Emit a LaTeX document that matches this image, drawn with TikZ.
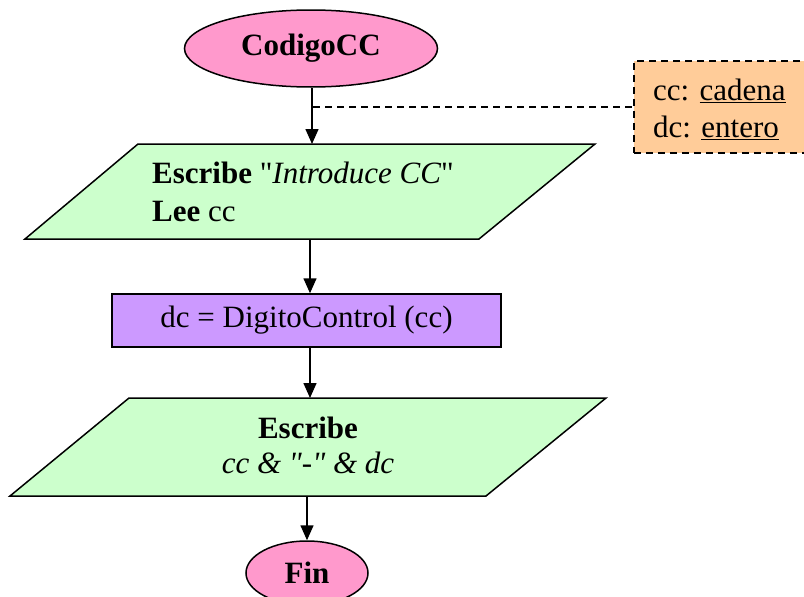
\documentclass[tikz,border=0pt]{standalone}
\usepackage{fontspec}
\setmainfont{Liberation Serif}[Ligatures=TeXOff]
\usetikzlibrary{shapes.geometric,arrows.meta}
\definecolor{pinkfill}{HTML}{FF99CC}
\definecolor{greenfill}{HTML}{CCFFCC}
\definecolor{purplefill}{HTML}{CC99FF}
\definecolor{orangefill}{HTML}{FFCC99}
\begin{document}
\begin{tikzpicture}[x=1pt,y=-1pt,
  every node/.style={font=\fontsize{31}{38}\selectfont},
  terminal/.style={ellipse,draw,line width=1.5pt,fill=pinkfill,inner sep=0pt,font=\fontsize{31}{38}\selectfont\bfseries},
  iobox/.style={draw,line width=1.5pt,fill=greenfill,line join=miter},
  procbox/.style={rectangle,draw,line width=1.5pt,fill=purplefill,inner sep=0pt},
  notebox/.style={rectangle,draw,line width=1.5pt,fill=orangefill,dash pattern=on 7pt off 5pt,align=left,inner xsep=0pt,inner ysep=0pt},
  arr/.style={line width=1.5pt,-{Triangle[width=13pt,length=15pt]}},
  noteline/.style={line width=1.5pt,dash pattern=on 7pt off 5pt}]
\useasboundingbox (0,0) rectangle (804,597);

% start
\node[terminal,minimum width=253pt,minimum height=77pt] (start) at (311,48.5) {CodigoCC};

% declarations box
\node[notebox,minimum width=175pt,minimum height=92pt,text width=155pt,inner xsep=10pt,anchor=north west] (decl) at (633,60) {};
\node[anchor=base west,inner sep=0pt] (declA) at (653,100) {cc: \underline{cadena}};
\node[anchor=base west,inner sep=0pt] (declB) at (653,137) {dc: \underline{entero}};

% input/output 1
\draw[iobox] (138,144) -- (595,144) -- (479,239) -- (25,239) -- cycle;
\coordinate (p1t) at (312,144);
\coordinate (p1b) at (310,239);
\node[anchor=base west,inner sep=0pt] (t1a) at (152,183) {\textbf{Escribe} "\textit{Introduce CC}"};
\node[anchor=base west,inner sep=0pt] (t1b) at (152,221) {\textbf{Lee} cc};

% process
\node[procbox,minimum width=389pt,minimum height=53pt] (proc) at (306.5,320.5) {dc = DigitoControl (cc)};

% input/output 2
\draw[iobox] (129,398) -- (606,398) -- (486,496) -- (10,496) -- cycle;
\coordinate (p2t) at (310,398);
\coordinate (p2b) at (307,496);
\node[anchor=base,inner sep=0pt] (t2a) at (308,438) {\textbf{Escribe}};
\node[anchor=base,inner sep=0pt] (t2b) at (308,473) {\textit{cc \& "-" \& dc}};

% end
\node[terminal,minimum width=122pt,minimum height=64pt] (fin) at (307,573) {Fin};

% connectors
\draw[arr] (start.south -| p1t) -- (p1t);
\coordinate (dj) at (313,107);
\draw[noteline] (dj) -- (dj -| decl.west);
\draw[arr] (p1b) -- (p1b |- proc.north);
\draw[arr] (proc.south -| p2t) -- (p2t);
\draw[arr] (p2b) -- (fin.north);
\end{tikzpicture}
\end{document}
